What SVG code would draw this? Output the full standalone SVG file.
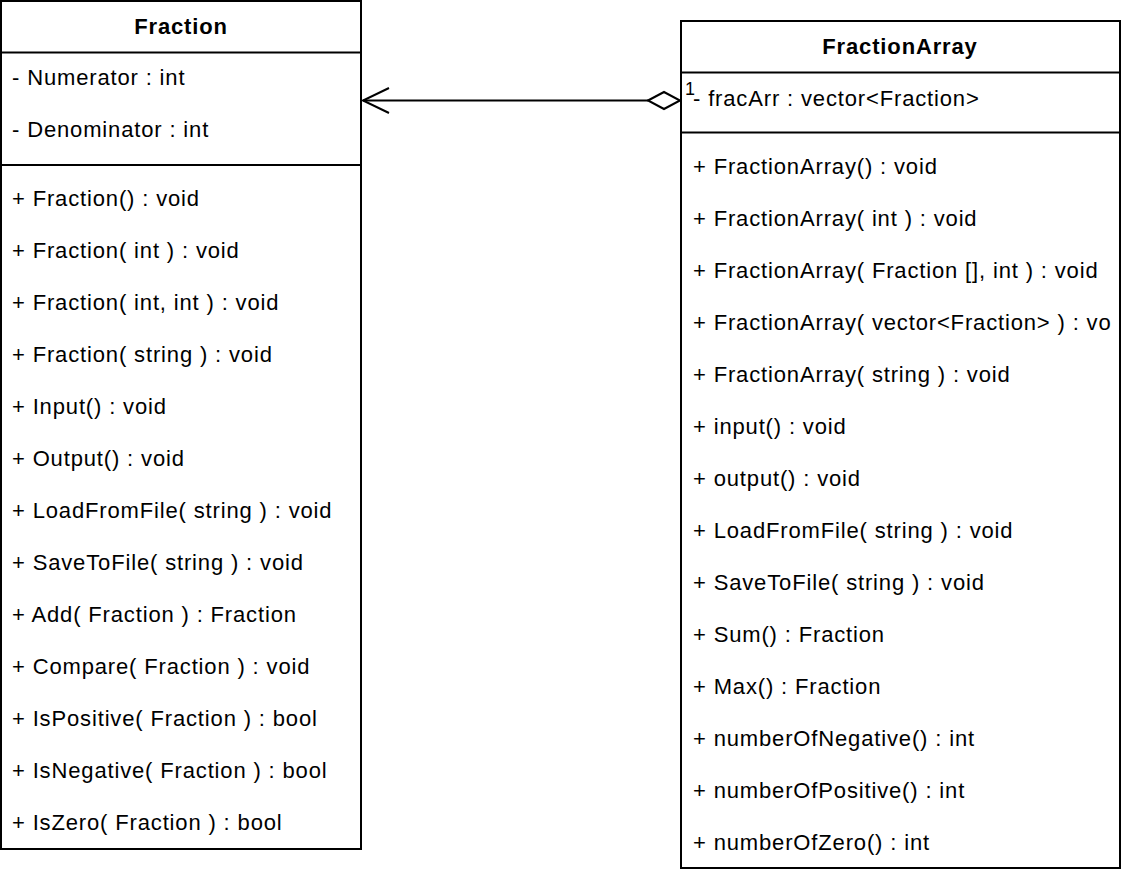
<svg xmlns="http://www.w3.org/2000/svg" width="1122" height="876" viewBox="0 0 1122 876">
<style>
.box{fill:#fff;stroke:#000;stroke-width:2}
.sep{stroke:#000;stroke-width:2}
.t{font-family:"Liberation Sans",Arial,sans-serif;font-size:22px;letter-spacing:0.85px;fill:#000}
.h{font-family:"Liberation Sans",Arial,sans-serif;font-size:22px;letter-spacing:0.85px;font-weight:bold;fill:#000;text-anchor:middle}
.conn{fill:none;stroke:#000;stroke-width:2}
</style>
<rect width="1122" height="876" fill="#fff"/>
<g id="Fraction">
<rect class="box" x="1" y="1" width="360" height="848"/>
<line class="sep" x1="1" y1="52.5" x2="361" y2="52.5"/>
<line class="sep" x1="1" y1="165" x2="361" y2="165"/>
<text class="h" x="181" y="34">Fraction</text>
<text class="t" x="12" y="85">- Numerator : int</text>
<text class="t" x="12" y="137">- Denominator : int</text>
<text class="t" x="12" y="206">+ Fraction() : void</text>
<text class="t" x="12" y="258">+ Fraction( int ) : void</text>
<text class="t" x="12" y="310">+ Fraction( int, int ) : void</text>
<text class="t" x="12" y="362">+ Fraction( string ) : void</text>
<text class="t" x="12" y="414">+ Input() : void</text>
<text class="t" x="12" y="466">+ Output() : void</text>
<text class="t" x="12" y="518">+ LoadFromFile( string ) : void</text>
<text class="t" x="12" y="570">+ SaveToFile( string ) : void</text>
<text class="t" x="12" y="622">+ Add( Fraction ) : Fraction</text>
<text class="t" x="12" y="674">+ Compare( Fraction ) : void</text>
<text class="t" x="12" y="726">+ IsPositive( Fraction ) : bool</text>
<text class="t" x="12" y="778">+ IsNegative( Fraction ) : bool</text>
<text class="t" x="12" y="830">+ IsZero( Fraction ) : bool</text>
</g>
<g id="FractionArray">
<rect class="box" x="681" y="21" width="439" height="847"/>
<line class="sep" x1="681" y1="72.5" x2="1120" y2="72.5"/>
<line class="sep" x1="681" y1="132.5" x2="1120" y2="132.5"/>
<text class="h" x="900" y="54">FractionArray</text>
<text class="t" x="693" y="106">- fracArr : vector&lt;Fraction&gt;</text>
<text class="t" x="693" y="174">+ FractionArray() : void</text>
<text class="t" x="693" y="226">+ FractionArray( int ) : void</text>
<text class="t" x="693" y="278">+ FractionArray( Fraction [], int ) : void</text>
<text class="t" x="693" y="330">+ FractionArray( vector&lt;Fraction&gt; ) : vo</text>
<text class="t" x="693" y="382">+ FractionArray( string ) : void</text>
<text class="t" x="693" y="434">+ input() : void</text>
<text class="t" x="693" y="486">+ output() : void</text>
<text class="t" x="693" y="538">+ LoadFromFile( string ) : void</text>
<text class="t" x="693" y="590">+ SaveToFile( string ) : void</text>
<text class="t" x="693" y="642">+ Sum() : Fraction</text>
<text class="t" x="693" y="694">+ Max() : Fraction</text>
<text class="t" x="693" y="746">+ numberOfNegative() : int</text>
<text class="t" x="693" y="798">+ numberOfPositive() : int</text>
<text class="t" x="693" y="850">+ numberOfZero() : int</text>
</g>
<g id="connectors">
<line class="conn" x1="363" y1="100.5" x2="648" y2="100.5"/>
<polyline class="conn" points="389,88 363,100.5 389,113"/>
<polygon class="conn" points="648,100.5 664,92 680,100.5 664,109" style="fill:#fff"/>
<text x="685" y="95" style="font-family:'Liberation Sans',Arial,sans-serif;font-size:18px;fill:#000">1</text>
</g>
</svg>
